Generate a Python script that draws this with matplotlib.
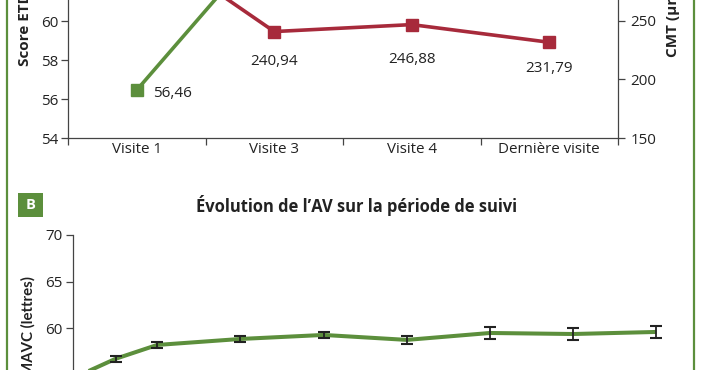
import matplotlib
matplotlib.use("Agg")
import matplotlib.pyplot as plt
from matplotlib.lines import Line2D
from matplotlib.patches import Rectangle

plt.rcParams['font.family'] = ['Open Sans', 'DejaVu Sans']

# ---------------- data ----------------
visits = ["Visite 1", "Visite 3", "Visite 4", "Dernière visite"]
etdrs = [56.46, 64.6, 65.0, 64.7]          # only first is visible in crop
etdrs_labels = ["56,46", "64,60", "65,00", "64,70"]
cmt = [321.8, 240.94, 246.88, 231.79]      # first is off-crop
cmt_labels = ["321,80", "240,94", "246,88", "231,79"]

months = [0, 1, 2, 4, 6, 8, 10, 12, 14]
mavc = [54.74, 56.76, 58.24, 58.88, 59.31, 58.78, 59.52, 59.41, 59.63]
mavc_err = [0.3, 0.35, 0.35, 0.35, 0.35, 0.46, 0.64, 0.64, 0.64]

GREEN = "#5c8f3c"
RED = "#a72a3b"
DARK = "#222222"

W, H = 702, 370
fig = plt.figure(figsize=(W / 100, H / 100), dpi=100)


def fx(px):
    return px / W


def fy(py):
    return 1 - py / H


# ---------------- panel A ----------------
axA = fig.add_axes([fx(68), fy(138), fx(618) - fx(68), fy(0) - fy(138)])
axA.set_xlim(-0.5, 3.5)
axA.set_ylim(54, 61.08)
xs = list(range(len(visits)))
axA.plot(xs, etdrs, color=GREEN, lw=2.6, marker='s', ms=8.5,
         solid_joinstyle='miter', zorder=3, clip_on=True)
axA.annotate(etdrs_labels[0], (xs[0], etdrs[0]), xytext=(11.5, -2.2),
             textcoords='offset points', ha='left', va='center',
             fontsize=11, color=DARK)

axB2 = axA.twinx()
axB2.set_ylim(150, 267.9)
axB2.plot(xs, cmt, color=RED, lw=2.6, marker='s', ms=8.5, zorder=3)
offs = [-22, -21.5, -25, -19]
for i in range(len(xs)):
    axB2.annotate(cmt_labels[i], (xs[i], cmt[i]), xytext=(0, offs[i]),
                  textcoords='offset points', ha='center', va='center',
                  fontsize=11, color=DARK)

for a in (axA, axB2):
    a.spines['top'].set_visible(False)
    a.set_facecolor('none')
axA.spines['right'].set_visible(False)
axB2.spines['left'].set_visible(False)
axB2.spines['bottom'].set_visible(False)
for sp in ('left', 'bottom'):
    axA.spines[sp].set_color("#444444")
    axA.spines[sp].set_linewidth(0.9)
axB2.spines['right'].set_color("#444444")
axB2.spines['right'].set_linewidth(0.9)

axA.set_xticks([-0.5, 0.5, 1.5, 2.5, 3.5])
axA.set_xticklabels([])
axA.set_xticks(xs, minor=True)
axA.set_xticklabels(visits, minor=True)
axA.tick_params(axis='x', which='major', length=5, direction='out', color="#444444", width=0.9)
axA.tick_params(axis='x', which='minor', length=0, pad=3, labelsize=10.9, labelcolor=DARK)
axA.set_yticks([54, 56, 58, 60])
axA.tick_params(axis='y', length=5, direction='out', color="#444444", width=0.9,
                labelsize=10.9, labelcolor=DARK, pad=2)
axB2.set_yticks([150, 200, 250])
axB2.tick_params(axis='y', length=5, direction='out', color="#444444", width=0.9,
                 labelsize=10.9, labelcolor=DARK, pad=4)

fig.text(fx(25), fy(66), "Score ETDRS (lettres)", rotation=90, rotation_mode='anchor',
         ha='left', va='center', fontsize=11, fontweight='bold', color=DARK)
fig.text(fx(673), fy(57), "CMT (µm)", rotation=90, rotation_mode='anchor',
         ha='left', va='center', fontsize=11, fontweight='bold', color=DARK)

# ---------------- panel B ----------------
axC = fig.add_axes([fx(72.5), 0, fx(690) - fx(72.5), fy(235)])
axC.set_ylim(55.56, 70)
axC.set_xlim((72.5 - 74) / 41.6, (690 - 74) / 41.6)
axC.plot(months, mavc, color=GREEN, lw=2.9, zorder=2, solid_capstyle='butt')
axC.errorbar(months[1:], mavc[1:], yerr=mavc_err[1:], fmt='none', ecolor=DARK,
             elinewidth=1.3, capsize=4.3, capthick=1.5, zorder=3)
for sp in ('top', 'right', 'bottom'):
    axC.spines[sp].set_visible(False)
axC.spines['left'].set_color("#444444")
axC.spines['left'].set_linewidth(0.9)
axC.set_xticks([])
axC.set_yticks([60, 65, 70])
axC.tick_params(axis='y', length=5, direction='out', color="#444444", width=0.9,
                labelsize=10.9, labelcolor=DARK, pad=2)
axC.set_facecolor('none')

fig.text(fx(28), fy(276), "MAVC (lettres)", rotation=90, rotation_mode='anchor',
         ha='right', va='center', fontsize=10.8, fontweight='bold', color=DARK,
         family=['Lato', 'DejaVu Sans'])

fig.text(fx(356), fy(205), "Évolution de l’AV sur la période de suivi",
         ha='center', va='center', fontsize=11.9, fontweight='bold', color=DARK)

# "B" badge
fig.add_artist(Rectangle((fx(18), fy(217)), fx(25), fy(193) - fy(217),
                         transform=fig.transFigure, color=GREEN, lw=0))
fig.text(fx(30.5), fy(205), "B", ha='center', va='center', fontsize=10.5,
         fontweight='bold', color='white')

# green frame lines
fig.add_artist(Line2D([fx(7), fx(7)], [0, 1], transform=fig.transFigure, color=GREEN, lw=1.6))
fig.add_artist(Line2D([fx(694), fx(694)], [0, 1], transform=fig.transFigure, color=GREEN, lw=1.6))

fig.savefig("out.png", dpi=100)
